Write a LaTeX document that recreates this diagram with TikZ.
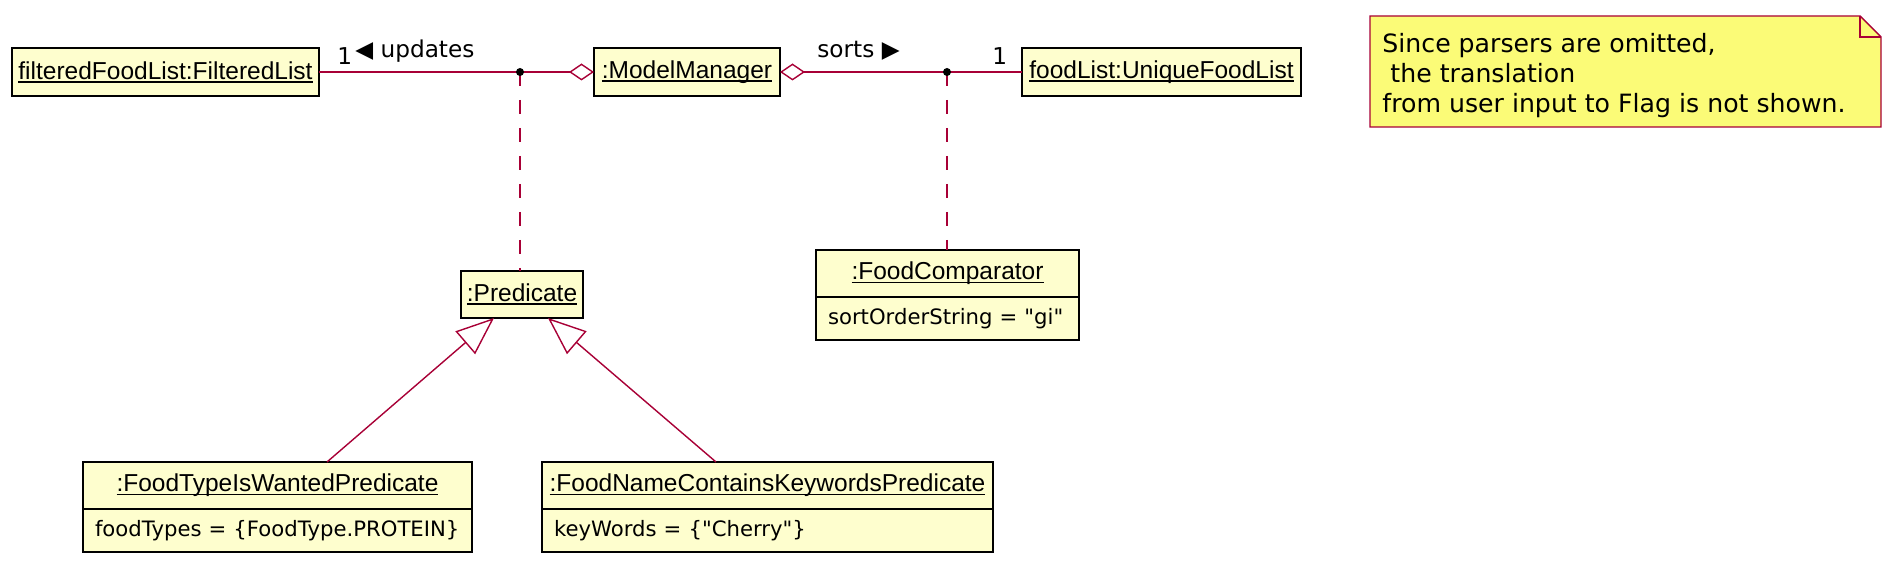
\documentclass[tikz,border=0pt]{standalone}
\usepackage{fontspec}
\setmainfont{DejaVu Sans}[Ligatures=TeXOff]
\newfontfamily\objfont{Liberation Sans}
\usetikzlibrary{positioning,arrows.meta}
\definecolor{objfill}{HTML}{FEFECE}
\definecolor{umlred}{HTML}{A80036}
\definecolor{notefill}{HTML}{FBFB77}
\newcommand\objname[1]{\setbox0\hbox{#1}\rlap{\rule[-1.7pt]{\wd0}{0.8pt}}\box0}
\begin{document}
\begin{tikzpicture}[x=0.5pt, y=-0.5pt,
    obj/.style={draw=black, fill=objfill, line width=1pt, outer sep=0pt, inner xsep=2pt, inner ysep=0pt, minimum height=23.5pt, font=\objfont\fontsize{12.25}{14}\selectfont},
    attr/.style={draw=black, fill=objfill, line width=1pt, outer sep=0pt, inner xsep=6pt, inner ysep=0pt, minimum height=21.5pt, align=left, font=\fontsize{10.6}{13}\selectfont},
    assoc/.style={draw=umlred, line width=0.7pt},
    lbl/.style={inner sep=0pt, font=\fontsize{11.6}{14}\selectfont}]
    \useasboundingbox (0,0) rectangle (1902,571);
    \node[obj, minimum height=24pt, minimum width=153.5pt] (ffl) at (165.5,72) {\objname{filteredFoodList:FilteredList}};
    \node[obj, minimum height=24pt, minimum width=93pt] (mm) at (687,72) {\objname{:ModelManager}};
    \node[obj, minimum height=24pt, minimum width=139.5pt] (fl) at (1161.5,72) {\objname{foodList:UniqueFoodList}};
    \node[obj, minimum width=61pt] (pred) at (522,294.5) {\objname{:Predicate}};
    \node[obj, minimum width=131.5pt] (comp) at (947.5,273.5) {\objname{:FoodComparator}};
    \node[attr, text width=119.5pt, below=0pt of comp] (compattr) {sortOrderString = "gi"};
    \node[obj, minimum width=194.5pt] (ftw) at (277.5,485.5) {\objname{:FoodTypeIsWantedPredicate}};
    \node[attr, text width=182.5pt, below=0pt of ftw] (ftwattr) {foodTypes = \{FoodType.PROTEIN\}};
    \node[obj, minimum width=225.5pt] (fnc) at (767.5,485.5) {\objname{:FoodNameContainsKeywordsPredicate}};
    \node[attr, text width=213.5pt, below=0pt of fnc] (fncattr) {keyWords = \{"Cherry"\}};
    % associations
    \coordinate (updj) at (520,72);
    \coordinate (sortj) at (947,72);
    \draw[assoc, -{Diamond[open, length=12.5pt, width=8.5pt]}] (ffl.east) -- (mm.west);
    \draw[assoc, {Diamond[open, length=12.5pt, width=8.5pt]}-] (mm.east) -- (fl.west);
    \draw[assoc, dash pattern=on 7pt off 7pt] (updj) -- (updj |- pred.north);
    \draw[assoc, dash pattern=on 7pt off 7pt] (sortj) -- (sortj |- comp.north);
    \fill (updj) circle (2pt);
    \fill (sortj) circle (2pt);
    \node[lbl, anchor=base west] (updm) at (337,65) {1};
    \node[lbl, anchor=base west] (updl) at (355,58) {◀ updates};
    \node[lbl, anchor=base west] (sortl) at (817,58) {sorts ▶};
    \node[lbl, anchor=base west] (sortm) at (992,65) {1};
    % generalizations
    \draw[assoc, -{Triangle[open, length=19pt, width=15pt]}] ([xshift=24.75pt]ftw.north) -- ([xshift=-14pt]pred.south);
    \draw[assoc, -{Triangle[open, length=19pt, width=15pt]}] ([xshift=-25.75pt]fnc.north) -- ([xshift=13pt]pred.south);
    % note
    \draw[umlred, fill=notefill, line width=0.7pt] (1370,16) -- (1860,16) -- (1881,37) -- (1881,127) -- (1370,127) -- cycle;
    \draw[umlred, line width=0.7pt] (1860,16) -- (1860,37) -- (1881,37);
    \node[anchor=north west, inner sep=0pt, align=left, font=\fontsize{12.6}{15}\selectfont] (note) at (1382,33) {Since parsers are omitted,\\\hspace{0.32em}the translation\\from user input to Flag is not shown.};
\end{tikzpicture}
\end{document}
